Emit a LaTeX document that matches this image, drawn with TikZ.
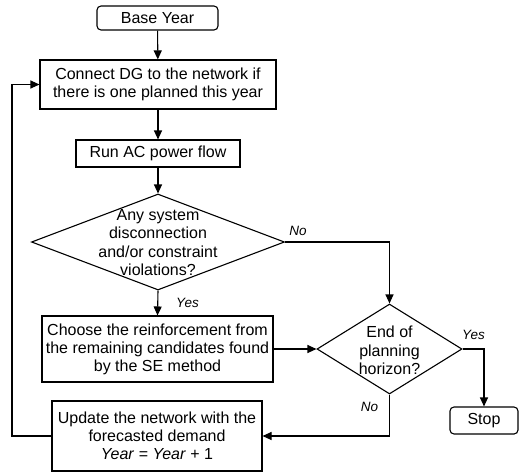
\documentclass[tikz,border=0pt]{standalone}
\usepackage{fontspec}
\setmainfont{Liberation Sans}
\usetikzlibrary{shapes.geometric,arrows.meta}
\begin{document}
\begin{tikzpicture}[x=1pt,y=-1pt,
  box/.style={draw, line width=1.1pt, inner sep=0pt, align=center, font=\fontsize{16}{18}\selectfont},
  rbox/.style={box, rounded corners=4pt},
  dia/.style={draw, diamond, line width=1.1pt, inner sep=0pt},
  txt/.style={inner sep=0pt, align=center, font=\fontsize{16}{18.5}\selectfont},
  lab/.style={inner sep=0pt, font=\fontsize{13.5}{16}\selectfont\itshape},
  arr/.style={line width=1.1pt, -{Triangle[length=9pt,width=8pt]}},
  line/.style={line width=1.1pt}
]
\useasboundingbox (0,0) rectangle (519,472);
\node[rbox, minimum width=121pt, minimum height=24pt] (base) at (157.5,18) {Base Year};
\node[box, minimum width=236pt, minimum height=49pt] (dg) at (158,84.5) {Connect DG to the network if\\there is one planned this year};
\node[box, minimum width=164pt, minimum height=27pt] (ac) at (158,153.5) {Run AC power flow};
\node[dia, minimum width=253pt, minimum height=96pt] (d1) at (158,242) {};
\node[txt] (d1t) at (158,242.5) {Any system\\disconnection\\and/or constraint\\violations?};
\node[box, minimum width=231pt, minimum height=66pt] (ch) at (157.5,349) {Choose the reinforcement from\\the remaining candidates found\\by the SE method};
\node[box, minimum width=210pt, minimum height=70pt] (up) at (157,436) {Update the network with the\\forecasted demand\\\textit{Year} = \textit{Year} + 1};
\node[dia, minimum width=145pt, minimum height=90pt] (d2) at (389.5,349) {};
\node[txt] (d2t) at (389.5,350.5) {End of\\planning\\horizon?};
\node[rbox, minimum width=68pt, minimum height=27pt] (stop) at (484,420.5) {Stop};
\coordinate (lp) at (12,436);

\draw[arr] (base) -- (dg);
\draw[arr] (dg) -- (ac);
\draw[arr] (ac) -- (d1);
\draw[arr] (d1.south) -- (ch.north);
\draw[arr] (d1.east) -| (d2.north);
\draw[arr] (ch.east) -- (d2.west);
\draw[arr] (d2.east) -| (stop.north);
\draw[arr] (d2.south) |- (up.east);
\draw[arr] (up.west) -- (lp) |- (dg.west);

\node[lab] (l1) at (187.5,303) {Yes};
\node[lab] (l2) at (298,231) {No};
\node[lab] (l3) at (473.5,335) {Yes};
\node[lab] (l4) at (369.5,407) {No};
\end{tikzpicture}
\end{document}
